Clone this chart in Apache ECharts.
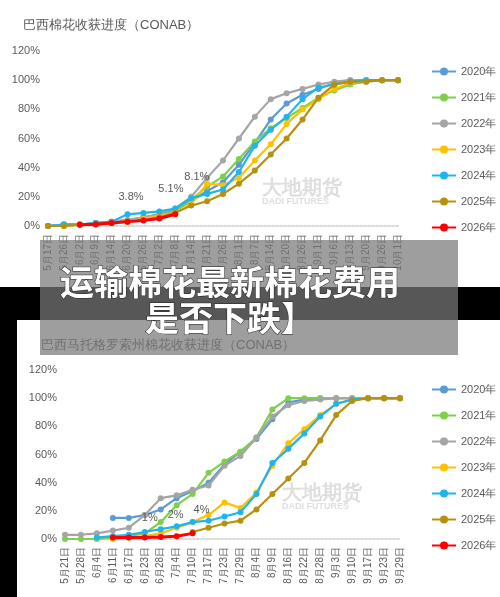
<!DOCTYPE html><html><head><meta charset="utf-8"><script src="https://cdn.jsdelivr.net/npm/echarts@6/dist/echarts.min.js"></script>
<style>body{margin:0;background:#fff}#c{width:500px;height:597px}</style></head><body><div id="c"></div><script>
const catsTop=['5月17日','5月26日','6月2日','6月9日','6月14日','6月20日','6月26日','7月2日','7月8日','7月14日','7月21日','7月26日','8月1日','8月7日','8月14日','8月20日','8月26日','9月1日','9月6日','9月13日','9月20日','9月26日','10月1日'];
const top2020=[0,1,1,2,3,4,6,8,11,17,24,30,42,57,73,84,90,94,98,100,100,100,100];
const top2021=[0,1,1,2,3,4,5,7,10,18,27,34,46,58,67,74,81,88,93,97,99,100,100];
const top2022=[0,1,1,2,3,4,6,8,12,20,33,45,60,75,87,91,94,97,99,100,100,100,100];
const top2023=[0,0,1,1,2,3,5,7,9,15,29,28,33,45,56,70,80,87,94,98,100,100,100];
const top2024=[0,1,1,2,3,8,9,10,12,19,22,25,37,55,66,75,87,95,97,99,100,100,100];
const top2025=[0,0,1,1,2,3,4,6,9,14,17,22,29,38,49,60,73,88,97,99,99,100,100];
const top2026=[null,null,0.8,1.2,2,3,3.8,5.1,8.1];
const catsBot=['5月21日','5月28日','6月4日','6月11日','6月17日','6月23日','6月28日','7月4日','7月10日','7月17日','7月23日','7月29日','8月4日','8月9日','8月16日','8月22日','8月28日','9月3日','9月10日','9月17日','9月23日','9月29日'];
const bot2020=[null,null,null,15,15,17,21,29,34,40,53,62,71,85,97,99,100,100,100,100,100,100];
const bot2021=[0,0,0,1,2,4,12,24,32,47,55,62,72,92,100,100,100,100,100,100,100,100];
const bot2022=[3,3,4,6,8,17,29,31,35,38,52,59,72,87,95,98,99,100,100,100,100,100];
const bot2023=[null,null,null,0,1,2,4,8,12,17,26,22,33,52,68,78,88,96,99,100,100,100];
const bot2024=[null,null,1,2,3,5,7,9,12,13,16,19,32,54,64,75,87,96,99,100,100,100];
const bot2025=[null,null,null,null,null,null,null,null,5,8,11,13,21,32,43,54,70,88,98,100,100,100];
const bot2026=[null,null,null,1,1,1,1.5,2,4];
const years=['2020年','2021年','2022年','2023年','2024年','2025年','2026年'];
const colors=['#5b9bd5','#7ed04b','#a5a5a5','#ffc000','#1fb4ec','#b8900f','#ff0000'];
const topData=[top2020,top2021,top2022,top2023,top2024,top2025,top2026];
const botData=[bot2020,bot2021,bot2022,bot2023,bot2024,bot2025,bot2026];
const topLbl={6:['3.8%',[-22,-26]],7:['5.1%',[2,-32]],8:['8.1%',[12,-40]]};
const botLbl={5:['1%',[0,-22]],7:['2%',[-6,-24]],8:['4%',[4,-26]]};
const series=[];
function mk(data,i,g,lbl){
  return {name:years[i],type:'line',xAxisIndex:g,yAxisIndex:g,symbol:'circle',symbolSize:6,
    lineStyle:{width:i===6?3:2.2,color:colors[i]},itemStyle:{color:colors[i]},z:i===6?10:2+i,
    data:data.map((v,k)=>i===6&&lbl[k]?{value:v,label:{show:true,formatter:lbl[k][0],position:lbl[k][1],color:'#595959',fontSize:11}}:v)};
}
topData.forEach((d,i)=>series.push(mk(d,i,0,topLbl)));
botData.forEach((d,i)=>series.push(mk(d,i,1,botLbl)));
const yax=g=>({type:'value',gridIndex:g,min:0,max:120,interval:20,splitLine:{show:false},axisLine:{show:false},axisTick:{show:false},axisLabel:{formatter:'{value}%',color:'#595959',fontSize:11}});
const xax=(g,c)=>({type:'category',gridIndex:g,data:c,boundaryGap:false,axisLine:{lineStyle:{color:'#d9d9d9',width:2,type:'dotted'}},axisTick:{show:false},axisLabel:{rotate:90,color:'#595959',fontSize:10,interval:0,margin:8}});
const leg=(top)=>({orient:'vertical',left:426,top:top,itemGap:15,itemWidth:24,itemHeight:10,selectedMode:false,textStyle:{color:'#595959',fontSize:11},data:years});
const ch=echarts.init(document.getElementById('c'));
ch.setOption({animation:false,
 title:[{text:'巴西棉花收获进度（CONAB）',left:18,top:14,textStyle:{color:'#595959',fontSize:13,fontWeight:'normal'}},
        {text:'巴西马托格罗索州棉花收获进度（CONAB）',left:36,top:334,textStyle:{color:'#595959',fontSize:13,fontWeight:'normal'}}],
 legend:[leg(61),leg(379)],
 grid:[{left:48,right:102,top:51,height:175},{left:65,right:100,top:370,height:169}],
 xAxis:[xax(0,catsTop),xax(1,catsBot)],yAxis:[yax(0),yax(1)],series:series,
 graphic:[
  {type:'text',left:262,top:178,z:1,style:{text:'大地期货',fill:'rgba(190,190,190,0.5)',font:'bold 20px sans-serif'}},
  {type:'text',left:262,top:197,z:1,style:{text:'DADI FUTURES',fill:'rgba(190,190,190,0.5)',font:'bold 9px sans-serif'}},
  {type:'text',left:282,top:483,z:1,style:{text:'大地期货',fill:'rgba(190,190,190,0.5)',font:'bold 20px sans-serif'}},
  {type:'text',left:282,top:502,z:1,style:{text:'DADI FUTURES',fill:'rgba(190,190,190,0.5)',font:'bold 9px sans-serif'}},
  {type:'rect',shape:{x:0,y:287,width:500,height:33},style:{fill:'#000'},z:100},
  {type:'rect',shape:{x:0,y:320,width:17,height:277},style:{fill:'#000'},z:100},
  {type:'rect',shape:{x:40,y:240,width:418,height:115},style:{fill:'rgba(120,120,120,0.72)'},z:101},
  {type:'text',x:230,y:282,z:102,style:{text:'运输棉花最新棉花费用',align:'center',verticalAlign:'middle',fill:'#fff',font:'bold 34px "Noto Sans CJK SC"',stroke:'#222',lineWidth:1}},
  {type:'text',x:230,y:318,z:102,style:{text:'是否下跌】',align:'center',verticalAlign:'middle',fill:'#fff',font:'bold 34px "Noto Sans CJK SC"',stroke:'#222',lineWidth:1}}
 ]});
</script></body></html>
